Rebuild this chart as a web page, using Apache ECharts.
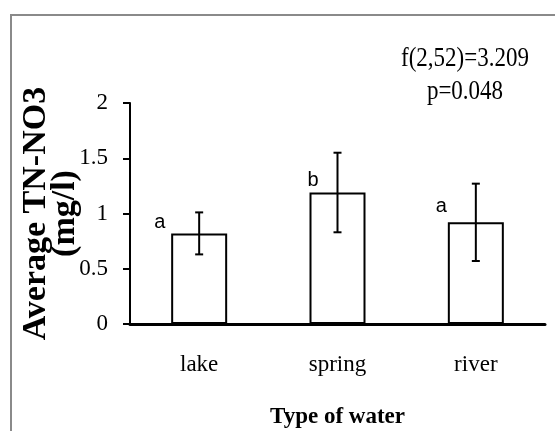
<!DOCTYPE html>
<html>
<head>
<meta charset="utf-8">
<script src="https://cdn.jsdelivr.net/npm/echarts@6/dist/echarts.min.js"></script>
<style>
  html, body { margin: 0; padding: 0; background: #fff; }
  #chart { width: 555px; height: 431px; }
</style>
</head>
<body>
<div id="chart"></div>
<script>
// Mean TN-NO3 per water type with standard error and post-hoc group letters
const categories = ['lake', 'spring', 'river'];
const meanValues = [0.82, 1.19, 0.92];
const errValues = [0.19, 0.36, 0.35];
const groupLetters = ['a', 'b', 'a'];
const yTicks = [0, 0.5, 1, 1.5, 2];
const statLines = ['f(2,52)=3.209', 'p=0.048'];

// small per-bar nudges for the group letters (pixels, from bar's top-left corner)
const letterNudge = [[-17, -21], [-2, -22], [-12, -26]];

const serif = '"Liberation Serif", "Times New Roman", serif';
const chart = echarts.init(document.getElementById('chart'));

const barData = meanValues.map((v, i) => ({
  value: v,
  label: {
    show: true,
    formatter: groupLetters[i],
    position: letterNudge[i]
  }
}));

const errData = meanValues.map((v, i) => [i, v - errValues[i], v + errValues[i]]);

chart.setOption({
  animation: false,
  backgroundColor: '#fff',
  grid: { left: 130, right: 10, top: 103, bottom: 107, containLabel: false, outerBoundsMode: 'none' },
  xAxis: {
    type: 'category',
    data: categories,
    axisLine: { lineStyle: { color: '#000', width: 3 } },
    axisTick: { show: false },
    axisLabel: { color: '#000', fontFamily: serif, fontSize: 23, margin: 29 },
    name: 'Type of water',
    nameLocation: 'middle',
    nameGap: 82,
    nameMoveOverlap: false,
    nameTextStyle: { color: '#000', fontFamily: serif, fontSize: 23, fontWeight: 'bold' }
  },
  yAxis: {
    type: 'value',
    min: yTicks[0],
    max: yTicks[yTicks.length - 1],
    interval: 0.5,
    splitLine: { show: false },
    axisLine: { show: true, lineStyle: { color: '#000', width: 2 } },
    axisTick: { show: true, length: 7, lineStyle: { color: '#000', width: 2 } },
    axisLabel: { color: '#000', fontFamily: serif, fontSize: 23, margin: 22 },
    name: 'Average TN-NO3\n(mg/l)',
    nameLocation: 'middle',
    nameRotate: 90,
    nameGap: 50,
    nameMoveOverlap: false,
    nameTextStyle: { color: '#000', fontFamily: serif, fontSize: 34, fontWeight: 'bold', lineHeight: 29 }
  },
  series: [
    {
      type: 'bar',
      data: barData,
      barWidth: 56,
      itemStyle: { color: '#fff', borderColor: '#000', borderWidth: 2 },
      label: { color: '#000', fontFamily: '"Liberation Sans", Arial, sans-serif', fontSize: 20 },
      z: 2
    },
    {
      type: 'custom',
      data: errData,
      z: 3,
      renderItem: function (params, api) {
        const lo = api.coord([api.value(0), api.value(1)]);
        const hi = api.coord([api.value(0), api.value(2)]);
        const cap = 4;
        const style = { stroke: '#000', lineWidth: 2 };
        return {
          type: 'group',
          children: [
            { type: 'line', shape: { x1: hi[0], y1: hi[1], x2: lo[0], y2: lo[1] }, style },
            { type: 'line', shape: { x1: hi[0] - cap, y1: hi[1], x2: hi[0] + cap, y2: hi[1] }, style },
            { type: 'line', shape: { x1: lo[0] - cap, y1: lo[1], x2: lo[0] + cap, y2: lo[1] }, style }
          ]
        };
      }
    }
  ],
  graphic: [
    {
      type: 'rect',
      shape: { x: 11, y: 15, width: 600, height: 500 },
      style: { fill: 'none', stroke: '#8a8a8a', lineWidth: 2 },
      silent: true
    },
    {
      type: 'text',
      x: 465,
      y: 42,
      scaleY: 1.15,
      style: {
        text: statLines.join('\n'),
        fill: '#000',
        font: '23px ' + serif,
        lineHeight: 29,
        align: 'center',
        verticalAlign: 'top'
      }
    }
  ]
});
</script>
</body>
</html>
